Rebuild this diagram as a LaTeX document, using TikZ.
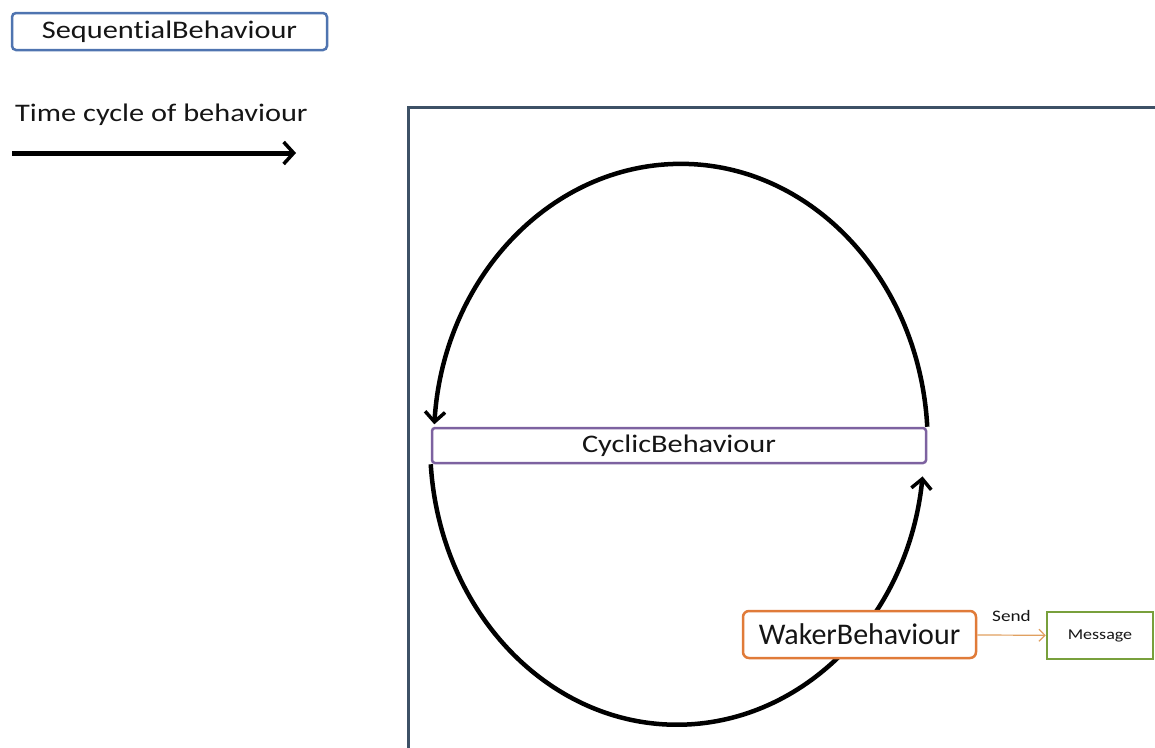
\documentclass[tikz,border=0pt]{standalone}
\usepackage{fontspec}
\setmainfont[Ligatures=NoCommon,Contextuals=NoAlternate]{Carlito}
\newfontfamily\wfont[FakeStretch=1.2,Ligatures=NoCommon,Contextuals=NoAlternate]{Carlito}
\usetikzlibrary{arrows.meta}
\definecolor{frameblue}{HTML}{3D5166}
\definecolor{seqblue}{HTML}{4F74B0}
\definecolor{cycpurple}{HTML}{7D62A0}
\definecolor{wakeorange}{HTML}{E07B39}
\definecolor{msggreen}{HTML}{78A03C}
\definecolor{sendline}{HTML}{E0A060}
\definecolor{ink}{HTML}{151515}
\tikzset{
  behbox/.style={draw, line width=2.5pt, rounded corners=4pt, fill=white, inner sep=0pt, text=ink},
  cycline/.style={line width=4.5pt, -{Straight Barb[length=10pt,width=20pt,line width=3.5pt]}}
}
\begin{document}
\begin{tikzpicture}[x=1pt,y=-1pt]
\useasboundingbox (0,0) rectangle (1155,747);
% behaviour
\node[behbox, draw=seqblue, minimum width=315, minimum height=37, font=\wfont\fontsize{25.3}{30}\selectfont] (seq) at (169.5,31.5) {Sequent\kern0pt ialBehaviour};
\node[anchor=west, inner sep=0pt, text=ink, font=\wfont\fontsize{25.3}{30}\selectfont] (time) at (15,115) {Time cycle of behaviour};
\coordinate (tstart) at (12,153);
\coordinate (tend) at (296,153);
\draw[line width=5pt, -{Straight Barb[length=10pt,width=22pt,line width=3.5pt]}] (tstart) -- (tend);
% frame
\draw[frameblue, line width=3pt] (408,748) -- (408,107) -- (1156,107);
% the cycle
\node[behbox, draw=cycpurple, rounded corners=3pt, minimum width=494, minimum height=35, font=\wfont\fontsize{25.3}{30}\selectfont] (cyc) at (679,445.5) {CyclicBehaviour};
\draw[cycline] (cyc.north east) arc[start angle=-3.5, end angle=-176, x radius=247, y radius=280];
\draw[cycline] (cyc.south west) arc[start angle=176, end angle=6.5, x radius=247, y radius=280];
% waker and message
\node[behbox, draw=wakeorange, rounded corners=6pt, minimum width=233, minimum height=47, font=\fontsize{30}{36}\selectfont] (waker) at (859.5,634.5) {WakerBehaviour};
\node[behbox, draw=msggreen, rounded corners=0pt, minimum width=106, minimum height=47, font=\wfont\fontsize{15}{18}\selectfont] (msg) at (1100,635.5) {Message};
\draw[sendline, line width=1.2pt, -{Straight Barb[length=6pt,width=12pt]}] (waker) -- node[above=10pt, text=ink, font=\wfont\fontsize{16}{19}\selectfont] {Send} (msg);
\end{tikzpicture}
\end{document}
